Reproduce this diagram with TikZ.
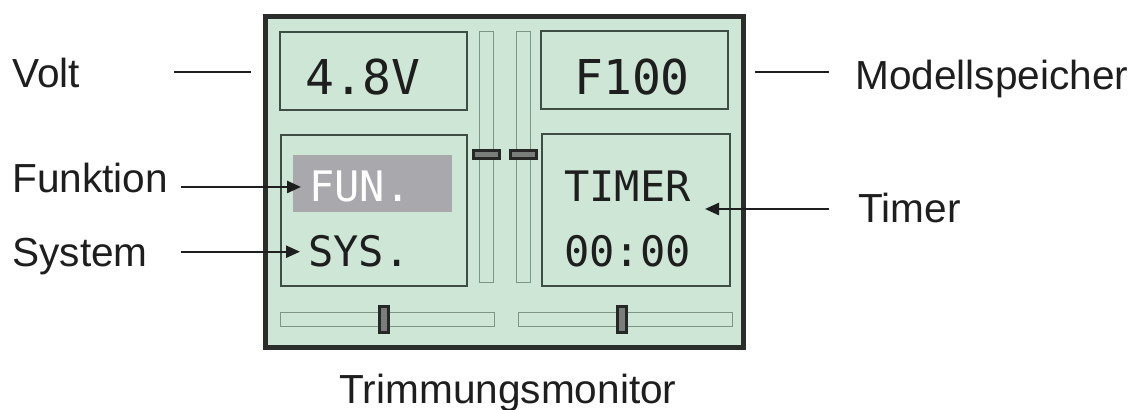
\documentclass[tikz,border=0pt]{standalone}
\usepackage{fontspec}
\setmainfont{Liberation Sans}
\newfontfamily\lcdfont{DejaVu Sans Mono}
\usetikzlibrary{arrows.meta}
\definecolor{ink}{HTML}{1E1E1E}
\definecolor{lcdgreen}{HTML}{CDE6D5}
\definecolor{frameline}{HTML}{2B2D2B}
\definecolor{paneline}{HTML}{3E4E44}
\definecolor{trackline}{HTML}{7F9487}
\definecolor{knobdark}{HTML}{262826}
\definecolor{knobgray}{HTML}{7A7E7B}
\definecolor{hilite}{HTML}{A9A9AD}

\begin{document}
\begin{tikzpicture}[x=0.5pt,y=-0.5pt,
    lbl/.style={anchor=base west,inner xsep=6pt,inner ysep=0pt,font=\fontsize{20.3}{23}\selectfont,text=ink},
    lcdbig/.style={anchor=base,inner sep=0pt,font=\lcdfont\fontsize{24}{27}\selectfont,text=ink},
    lcdsmall/.style={anchor=base west,inner sep=0pt,font=\lcdfont\fontsize{21}{24}\selectfont,text=ink},
    pane/.style={draw=paneline,line width=1.3pt},
    track/.style={draw=trackline,line width=0.5pt},
    knob/.style={draw=knobdark,fill=knobgray,line width=1.6pt},
    lead/.style={draw=ink,line width=1.2pt},
    arr/.style={lead,-{Triangle[length=7pt,width=6pt]}}]
    % bbox = reference canvas in pixels
    \useasboundingbox (0,0) rectangle (1136,410);

    % display housing
    \draw[draw=frameline,fill=lcdgreen,line width=2.5pt] (265,17) rectangle (743,348);

    % panes
    \draw[pane] (280,32) rectangle (467,110);
    \draw[pane] (541,31) rectangle (728,109);
    \draw[pane] (281,135) rectangle (467,286);
    \draw[pane] (542,134) rectangle (730,286);
    \fill[hilite] (293,155) rectangle (452,212);

    % vertical trims
    \foreach \x in {479,516} {
      \draw[track] (\x,32) rectangle ++(14,251);
      \draw[knob] (\x-5.5,150.5) rectangle ++(26,8);
    }
    % horizontal trims
    \foreach \x/\k in {280/378,518/616} {
      \draw[track] (\x,313) rectangle ++(214,14);
      \draw[knob] (\k+1.5,306.5) rectangle ++(9,26);
    }

    % display texts
    \node[lcdbig] (volttext) at (363,95) {4.8V};
    \node[lcdbig] (modeltext) at (632,95) {F100};
    \node[lcdsmall,text=white] (funtext) at (309,202) {FUN.};
    \node[lcdsmall] (systext) at (308,267) {SYS.};
    \node[lcdsmall] (timertext) at (564,202) {TIMER};
    \node[lcdsmall] (clocktext) at (564,267) {00:00};

    % labels
    \node[lbl] (volt) at (0,88) {Volt};
    \node[lbl] (funktion) at (0,193) {Funktion};
    \node[lbl] (system) at (0,267) {System};
    \node[lbl] (modell) at (843,90) {Modellspeicher};
    \node[lbl] (timer) at (846,223) {Timer};
    \node[lbl,anchor=base] (trimm) at (508,404) {Trimmungsmonitor};

    % leader lines
    \coordinate (voltA) at (174,72);
    \coordinate (voltB) at (251,72);
    \coordinate (modellA) at (755,72);
    \coordinate (modellB) at (829,72);
    \coordinate (timerA) at (829,209);
    \coordinate (timertip) at (705,209);
    \draw[lead] (voltA) -- (voltB);
    \draw[lead] (modellA) -- (modellB);
    \draw[arr] (funktion.east |- funtext.west) -- ([xshift=-4pt]funtext.west);
    \draw[arr] (funktion.east |- systext.west) -- ([xshift=-4pt]systext.west);
    \draw[arr] (timerA) -- (timertip);
  \end{tikzpicture}
\end{document}
